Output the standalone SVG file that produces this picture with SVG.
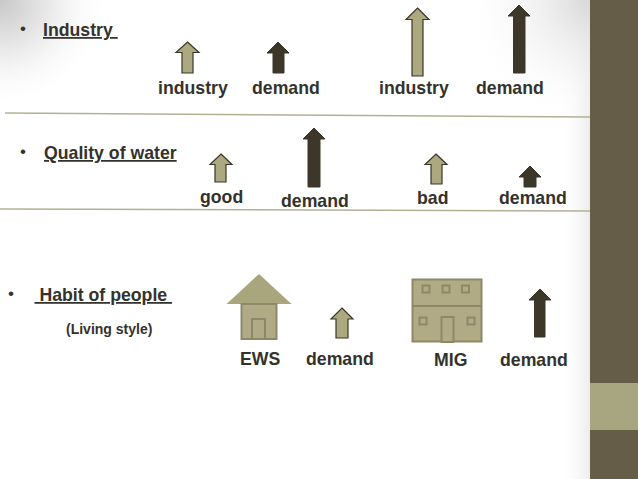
<svg xmlns="http://www.w3.org/2000/svg" width="638" height="479" viewBox="0 0 638 479">
<style>
text{font-family:"Liberation Sans",Arial,sans-serif;font-weight:bold;font-size:17.7px;fill:#33322c}
.b{font-weight:normal;font-size:17px;fill:#33322c}
.u{text-decoration:underline}
.s{font-size:14px}
.l{fill:#aca981;stroke:#3a3627;stroke-width:1.2}
.d{fill:#3c3728;stroke:#3c3728;stroke-width:1}
.h{fill:#b0ab84;stroke:#8c8868;stroke-width:2}
.r{stroke:#b4b094;stroke-width:1.5;fill:none}
</style>
<defs>
<radialGradient id="tl" gradientUnits="userSpaceOnUse" cx="0" cy="0" r="110"><stop offset="0" stop-color="#c8c8c8"/><stop offset="0.5" stop-color="#ececec"/><stop offset="1" stop-color="#fff" stop-opacity="0"/></radialGradient>
<radialGradient id="tr" gradientUnits="userSpaceOnUse" cx="590" cy="0" r="130"><stop offset="0" stop-color="#d8d8d8"/><stop offset="1" stop-color="#fff" stop-opacity="0"/></radialGradient>
<linearGradient id="br" gradientUnits="userSpaceOnUse" x1="560" y1="0" x2="590" y2="0"><stop offset="0" stop-color="#fff" stop-opacity="0"/><stop offset="1" stop-color="#ececec"/></linearGradient>
</defs>
<rect width="638" height="479" fill="#fff"/>
<rect width="638" height="479" fill="url(#br)"/>
<rect width="638" height="479" fill="url(#tl)"/>
<rect width="638" height="479" fill="url(#tr)"/>
<rect x="590" width="48" height="479" fill="#655d47"/>
<rect x="590" y="383" width="48" height="47" fill="#a8a681"/>
<g id="dividers"><path class="r" d="M5 113L590 117"/><path class="r" d="M0 209L590 211"/></g>
<g id="heading-industry"><text x="20" y="34" class="b">•</text><text x="43" y="36" class="u">Industry&#160;</text></g>
<g id="heading-water"><text x="20" y="157" class="b">•</text><text x="44" y="159" class="u">Quality of water</text></g>
<g id="heading-habit"><text x="8" y="299" class="b">•</text><text x="34.500" y="301" class="u">&#160;Habit of people&#160;</text><text x="66" y="334" class="s">(Living style)</text></g>
<g id="connectors">
<path class="l" d="M187.500 42L199 52.500H193V73H182V52.500H176Z"/>
<path class="d" d="M278 42L289 53H284V73H273V53H267Z"/>
<path class="l" d="M417.500 8L429 19.500H423V76H412V19.500H406Z"/>
<path class="d" d="M519 5L530 16H525V73H513.500V16H508Z"/>
<path class="l" d="M221 154L232 164.500H226V182H215V164.500H210Z"/>
<path class="d" d="M314 128L325 139H320V187H308V139H303Z"/>
<path class="l" d="M436 154L447 164.500H442V184H431V164.500H425Z"/>
<path class="d" d="M530 166L541 177H536V187H524V177H519Z"/>
<path class="l" d="M342 308L353 319H348V338H336V319H331Z"/>
<path class="d" d="M540 289L551 300H545V337H534.500V300H529Z"/>
</g>
<g id="labels-row1"><text x="158" y="94">industry</text><text x="252" y="94">demand</text><text x="379" y="94">industry</text><text x="476" y="94">demand</text></g>
<g id="labels-row2"><text x="200" y="203">good</text><text x="281" y="207">demand</text><text x="417" y="204">bad</text><text x="499" y="204">demand</text></g>
<g id="labels-row3"><text x="240" y="365">EWS</text><text x="306" y="365">demand</text><text x="434" y="366">MIG</text><text x="500" y="366">demand</text></g>
<g id="house-ews"><path d="M259 274L291.500 304H226.500Z" fill="#a9a67e"/><rect class="h" x="241.500" y="304" width="35" height="35"/><rect class="h" x="252" y="319" width="13" height="20"/></g>
<g id="house-mig"><rect class="h" x="412.500" y="279.500" width="69" height="62"/><path class="h" d="M412.500 306H481.500"/>
<rect class="h" x="422.500" y="285.500" width="7" height="7"/><rect class="h" x="442.500" y="285.500" width="7" height="7"/><rect class="h" x="462" y="285.500" width="7" height="7"/><rect class="h" x="419.500" y="317.500" width="7" height="7"/><rect class="h" x="467.500" y="317.500" width="7" height="7"/><rect class="h" x="441.500" y="317" width="12" height="25"/></g>
</svg>
